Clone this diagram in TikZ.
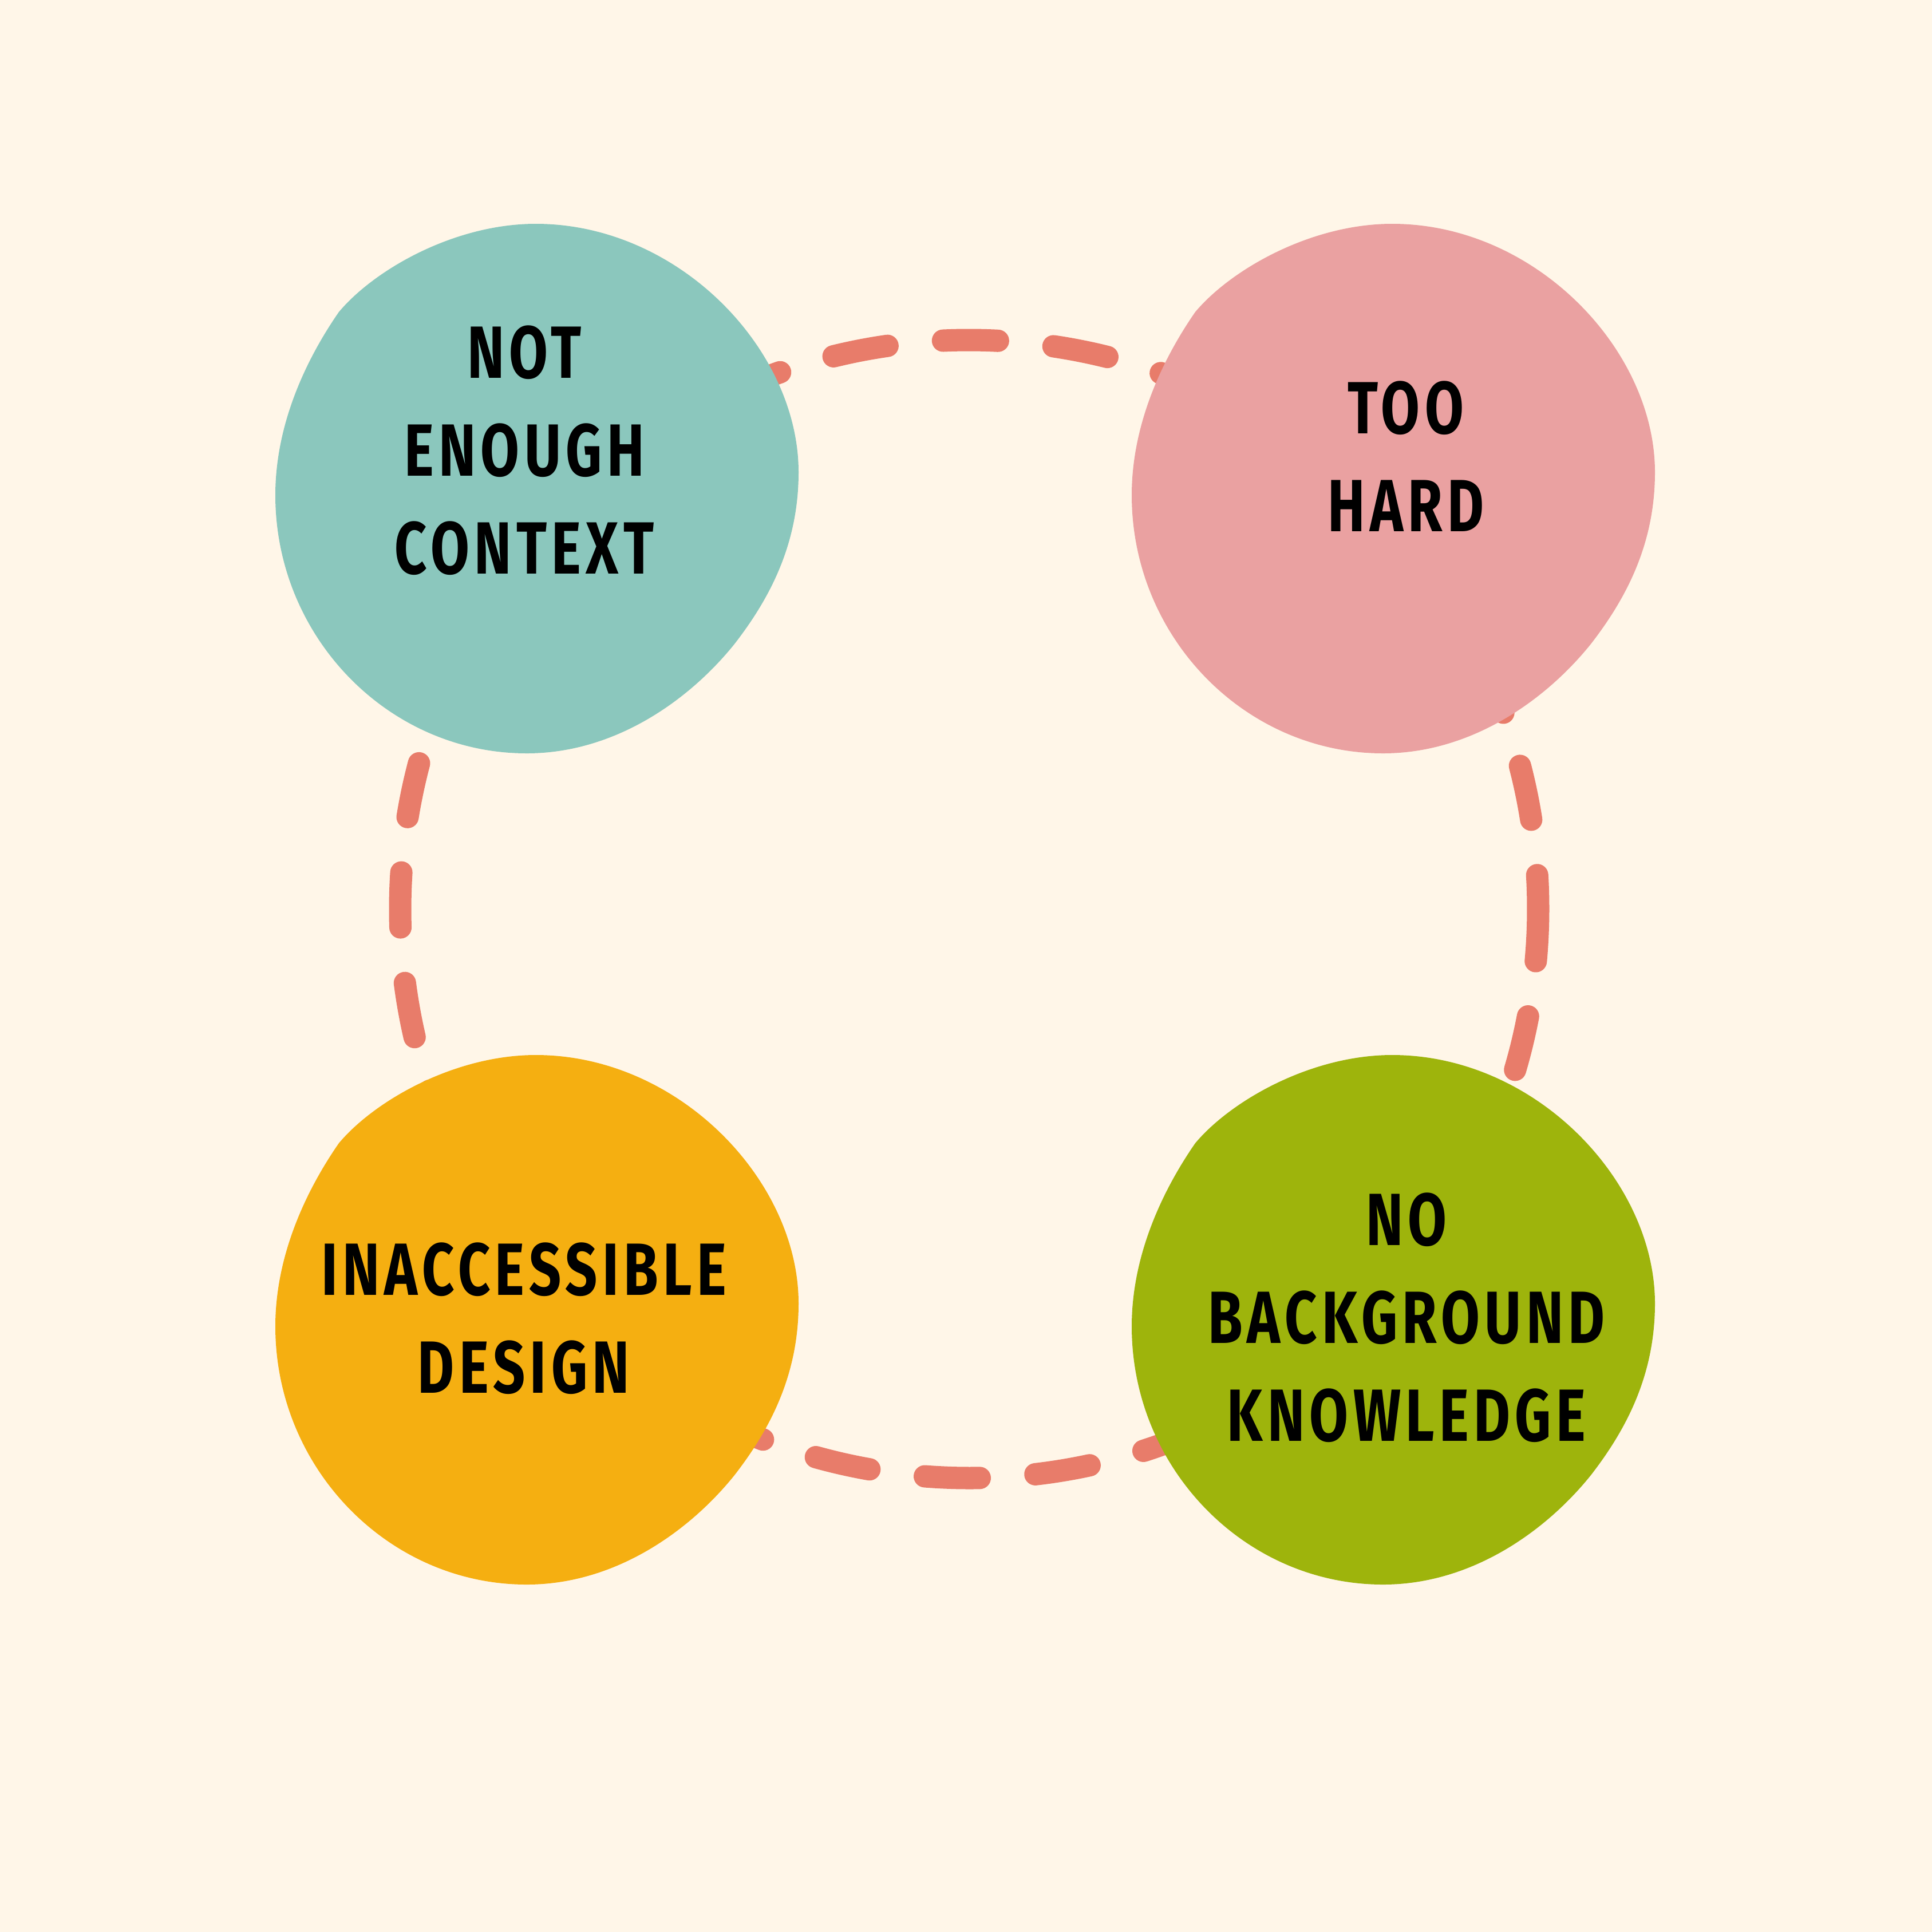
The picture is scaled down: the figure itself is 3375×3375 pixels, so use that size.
\documentclass[tikz,border=0pt]{standalone}
\usepackage{fontspec}
\newfontfamily\lblfont{Fira Sans}[FakeStretch=0.76,LetterSpace=6.5]
\definecolor{bgcream}{HTML}{FFF6E8}
\definecolor{ringcol}{HTML}{E87C6A}
\definecolor{tealblob}{HTML}{8BC7BD}
\definecolor{pinkblob}{HTML}{EAA1A1}
\definecolor{orangeblob}{HTML}{F5AF11}
\definecolor{greenblob}{HTML}{9EB40C}
\begin{document}
\begin{tikzpicture}[x=0.01cm,y=-0.01cm,
  ringline/.style={draw=ringcol,line width=0.39cm,line cap=round,
    dash pattern=on 27.315pt off 27.707pt},
  lbl/.style={font=\lblfont\bfseries\fontsize{36.75}{48.65}\selectfont,
    align=center,inner sep=0pt,text=black},
  blob/.pic={\fill[pic actions]
    (936,391) .. controls (1185,391) and (1395,610) .. (1395,825)
    .. controls (1395,950) and (1345,1045) .. (1283,1125)
    .. controls (1205,1222) and (1075,1316) .. (920,1316)
    .. controls (679,1316) and (481,1113) .. (481,865)
    .. controls (481,735) and (540,620) .. (592,545)
    .. controls (655,470) and (795,391) .. (936,391) -- cycle;}
]
\fill[bgcream] (0,0) rectangle (3375,3375);
\useasboundingbox (0,0) rectangle (3375,3375);
\coordinate (ringc) at (1693,1588);
\draw[ringline] (ringc) ++(2.12:994) arc[start angle=2.12,end angle=-357.88,radius=994];
\pic[fill=tealblob] (b1) at (0,0) {blob};
\pic[fill=pinkblob] (b2) at (1496,0) {blob};
\pic[fill=orangeblob] (b3) at (0,1452) {blob};
\pic[fill=greenblob] (b4) at (1496,1452) {blob};
\node[lbl] (ctx) at (916,787) {NOT\\ENOUGH\\CONTEXT};
\node[lbl] (hard) at (2456,797) {TOO\\HARD};
\node[lbl] (design) at (915,2303) {INACCESSIBLE\\DESIGN};
\node[lbl] (know) at (2457,2302) {NO\\BACKGROUND\\KNOWLEDGE};
\end{tikzpicture}
\end{document}
